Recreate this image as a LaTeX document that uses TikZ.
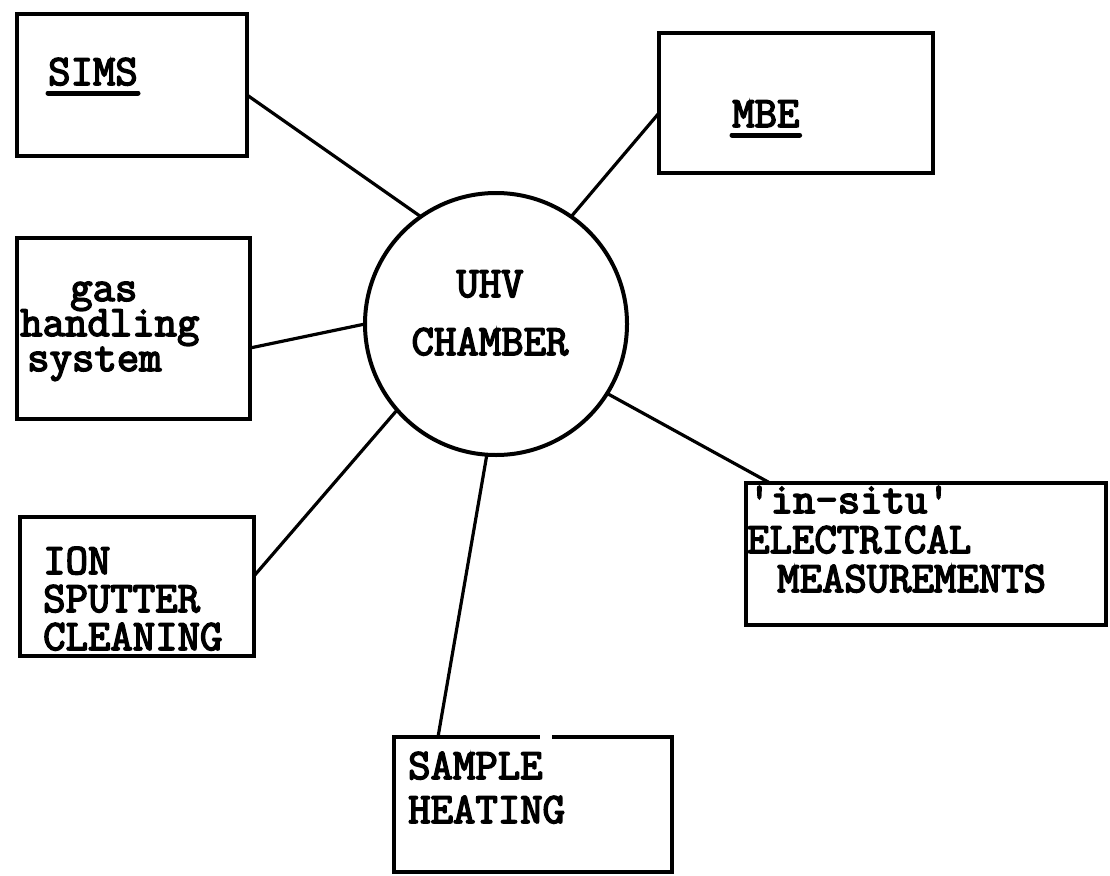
\documentclass[tikz,border=0pt]{standalone}
\usepackage{fontspec}
\setmonofont{Latin Modern Mono}[FakeBold=3.5]
\begin{document}
\begin{tikzpicture}[x=1pt,y=-1pt,
  box/.style={draw, line width=4pt, inner sep=0pt, outer sep=0pt, anchor=north west},
  link/.style={line width=3.2pt},
  lbl/.style={font=\fontsize{43.5}{40}\selectfont\ttfamily, inner sep=0pt, anchor=base west},
  ctr/.style={lbl, anchor=base},
  uline/.style={line width=5pt, line cap=round}]
\useasboundingbox[fill=white] (0,0) rectangle (1110,875);

% boxes
\node[box, minimum width=230pt, minimum height=142pt] (sims)   at (17,14)   {};
\node[box, minimum width=274pt, minimum height=140pt] (mbe)    at (659,33)  {};
\node[box, minimum width=233pt, minimum height=181pt] (gas)    at (17,238)  {};
\node[box, minimum width=234pt, minimum height=139pt] (ion)    at (20,517)  {};
\node[box, minimum width=360pt, minimum height=142pt] (situ)   at (746,483) {};
\node[box, minimum width=278pt, minimum height=135pt] (sample) at (394,737) {};
\draw[white, line width=6pt] ([xshift=146pt]sample.north west) -- ([xshift=158pt]sample.north west);

% chamber
\node[circle, draw, line width=4pt, minimum size=262pt, inner sep=0pt, outer sep=0pt] (uhv) at (496,324) {};
\node[ctr] (uhvA) at (490,297) {UHV};
\node[ctr] (uhvB) at (490,355) {CHAMBER};

% labels
\node[lbl] (simsl) at (48,85) {SIMS};
\draw[uline] ([yshift=-8pt]simsl.base west) -- ([yshift=-8pt]simsl.base east);
\node[lbl] (mbel) at (732,127) {MBE};
\draw[uline] ([yshift=-8pt]mbel.base west) -- ([yshift=-8pt]mbel.base east);

\node[lbl] (gas1) at (70,301) {gas};
\node[lbl] (gas2) at (20,336) {handling};
\node[lbl] (gas3) at (27,371) {system};

\node[lbl] (ion1) at (43,574) {ION};
\node[lbl] (ion2) at (43,612) {SPUTTER};
\node[lbl] (ion3) at (43,650) {CLEANING};

\node[lbl] (situ1) at (748,513) {'in-situ'};
\node[lbl] (situ2) at (747,553) {ELECTRICAL};
\node[lbl] (situ3) at (777,592) {MEASUREMENTS};

\node[lbl] (samp1) at (408,779) {SAMPLE};
\node[lbl] (samp2) at (408,823) {HEATING};

% connectors
\draw[link] ([yshift=-10pt]sims.east) -- (uhv.125);
\draw[link] ([yshift=-10pt]mbe.west) -- (uhv.55);
\draw[link] ([yshift=-19.5pt]gas.east) -- (uhv.180);
\draw[link] ([yshift=10.5pt]ion.east) -- (uhv.221);
\draw[link] ([xshift=-95pt]sample.north) -- (uhv.266);
\draw[link] ([xshift=24pt]situ.north west) -- (uhv.328);
\end{tikzpicture}
\end{document}
